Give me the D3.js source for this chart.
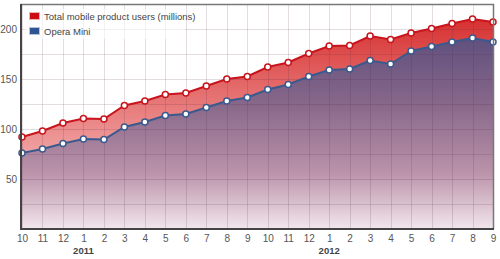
<!DOCTYPE html>
<meta charset="utf-8">
<style>
    body { margin: 0; background: #fff; }
    text { font-family: "Liberation Sans", Arial, sans-serif; }
    .tick text { fill: #555; font-size: 10px; }
    .legend text { fill: #444; font-size: 9.5px; }
    .year { fill: #444; font-size: 9.5px; font-weight: bold; }
</style>
<body>
<script src="https://d3js.org/d3.v7.min.js"></script>
<script>

    // months Oct 2010 .. Sep 2012
    var months = ["10","11","12","1","2","3","4","5","6","7","8","9",
                  "10","11","12","1","2","3","4","5","6","7","8","9"];
    var totalUsers = [92, 98, 106, 110.5, 110, 123.5, 128, 134.5, 136, 143, 150, 152.5,
                      162, 166.5, 175.5, 183, 183.5, 193, 189.5, 196, 200.5, 205.5, 210, 207];
    var operaMini = [76, 80, 85.5, 90, 89.5, 102, 107, 113.5, 115, 121.5, 128, 131.5,
                     139.5, 144.5, 152.5, 159, 160, 168.5, 165, 178, 182.5, 187, 191, 187];
    var years = [{label: "2011", index: 3}, {label: "2012", index: 15}];
    var yTicks = [50, 100, 150, 200];
    var seriesNames = ["Total mobile product users (millions)", "Opera Mini"];

    var dim = {width: 500, height: 259, left: 21, right: 493, top: 4, bottom: 229};

    var x = d3.scaleLinear()
            .domain([0, months.length - 1])
            .range([dim.left + 1, dim.right]);

    var y = d3.scaleLinear()
            .domain([0, 225])
            .range([dim.bottom, dim.top]);

    var svg = d3.select("body").append("svg")
            .attr("width", dim.width)
            .attr("height", dim.height);

    var defs = svg.append("defs");

    var redGrad = defs.append("linearGradient")
            .attr("id", "redGrad")
            .attr("gradientUnits", "userSpaceOnUse")
            .attr("x1", 0).attr("x2", 0)
            .attr("y1", dim.top).attr("y2", dim.bottom);
    redGrad.append("stop").attr("offset", "0%").attr("stop-color", "#d42424");
    redGrad.append("stop").attr("offset", "100%").attr("stop-color", "#ffe2e2");

    var purpleGrad = defs.append("linearGradient")
            .attr("id", "purpleGrad")
            .attr("gradientUnits", "userSpaceOnUse")
            .attr("x1", 0).attr("x2", 0)
            .attr("y1", dim.top).attr("y2", dim.bottom);
    purpleGrad.append("stop").attr("offset", "0%").attr("stop-color", "#4c4478");
    purpleGrad.append("stop").attr("offset", "45%").attr("stop-color", "#88688a");
    purpleGrad.append("stop").attr("offset", "75%").attr("stop-color", "#bb93aa");
    purpleGrad.append("stop").attr("offset", "100%").attr("stop-color", "#f2e6ec");

    var idx = d3.range(months.length);

    var redArea = d3.area()
            .x(function(i) { return x(i); })
            .y0(y(0))
            .y1(function(i) { return y(totalUsers[i]); });

    var blueArea = d3.area()
            .x(function(i) { return x(i); })
            .y0(y(0))
            .y1(function(i) { return y(operaMini[i]); });

    svg.append("path").datum(idx)
        .attr("d", redArea)
        .attr("fill", "url(#redGrad)");

    svg.append("path").datum(idx)
        .attr("d", blueArea)
        .attr("fill", "url(#purpleGrad)");

    // grid on top of the fills
    var grid = svg.append("g").attr("class", "grid");
    grid.selectAll("line.v")
        .data(idx)
        .enter().append("line")
        .attr("x1", function(i) { return Math.round(x(i)) + 0.5; })
        .attr("x2", function(i) { return Math.round(x(i)) + 0.5; })
        .attr("y1", dim.top)
        .attr("y2", dim.bottom)
        .attr("stroke", "rgba(80,40,70,0.16)");
    grid.selectAll("line.h")
        .data(d3.range(25, 225, 25))
        .enter().append("line")
        .attr("x1", dim.left)
        .attr("x2", dim.right)
        .attr("y1", function(v) { return Math.round(y(v)) + 0.5; })
        .attr("y2", function(v) { return Math.round(y(v)) + 0.5; })
        .attr("stroke", "rgba(80,40,70,0.16)");

    // lines and markers
    var series = [
        {values: totalUsers, color: "#c8141c"},
        {values: operaMini, color: "#3a5a8e"}
    ];

    series.forEach(function(s) {
        var line = d3.line()
                .x(function(i) { return x(i); })
                .y(function(i) { return y(s.values[i]); });
        svg.append("path").datum(idx)
            .attr("d", line)
            .attr("fill", "none")
            .attr("stroke", s.color)
            .attr("stroke-width", 2);
        svg.append("g").selectAll("circle")
            .data(idx)
            .enter().append("circle")
            .attr("cx", function(i) { return x(i); })
            .attr("cy", function(i) { return y(s.values[i]); })
            .attr("r", 3)
            .attr("fill", "#fff")
            .attr("stroke", s.color)
            .attr("stroke-width", 1.5);
    });

    // frame
    svg.append("path")
        .attr("d", "M" + dim.left + "," + (dim.top + 0.5) + "H" + (dim.right + 0.5) + "V" + dim.bottom)
        .attr("fill", "none")
        .attr("stroke", "#777")
        .attr("stroke-width", 1.5);
    svg.append("path")
        .attr("d", "M" + dim.left + "," + dim.top + "V" + dim.bottom + "H" + (dim.right + 1))
        .attr("fill", "none")
        .attr("stroke", "#444")
        .attr("stroke-width", 2);

    // axes
    var yAxis = d3.axisLeft(y).tickValues(yTicks).tickSize(0).tickPadding(3);
    svg.append("g")
        .attr("transform", "translate(" + (dim.left - 1) + ",0)")
        .call(yAxis)
        .call(function(g) { g.select(".domain").remove(); });

    var xAxis = d3.axisBottom(x)
            .tickValues(idx)
            .tickFormat(function(i) { return months[i]; })
            .tickSize(0)
            .tickPadding(6);
    svg.append("g")
        .attr("transform", "translate(0," + dim.bottom + ")")
        .call(xAxis)
        .call(function(g) { g.select(".domain").remove(); });

    svg.selectAll("text.year")
        .data(years)
        .enter().append("text")
        .attr("class", "year")
        .attr("x", function(d) { return x(d.index); })
        .attr("y", 254)
        .attr("text-anchor", "middle")
        .text(function(d) { return d.label; });

    // legend
    var legend = svg.append("g").attr("class", "legend");
    legend.append("rect")
        .attr("x", 25).attr("y", 9)
        .attr("width", 160).attr("height", 30)
        .attr("fill", "rgba(255,255,255,0.6)");
    var legendColors = ["#cc0a12", "#2e5590"];
    seriesNames.forEach(function(name, k) {
        legend.append("rect")
            .attr("x", 29.5).attr("y", 12.5 + k * 15)
            .attr("width", 10).attr("height", 7)
            .attr("fill", legendColors[k])
            .attr("stroke", k ? "#b8c4dc" : "#f0b0b0")
            .attr("stroke-width", 1);
        legend.append("text")
            .attr("x", 44).attr("y", 19.5 + k * 15)
            .text(name);
    });

</script>
</body>
